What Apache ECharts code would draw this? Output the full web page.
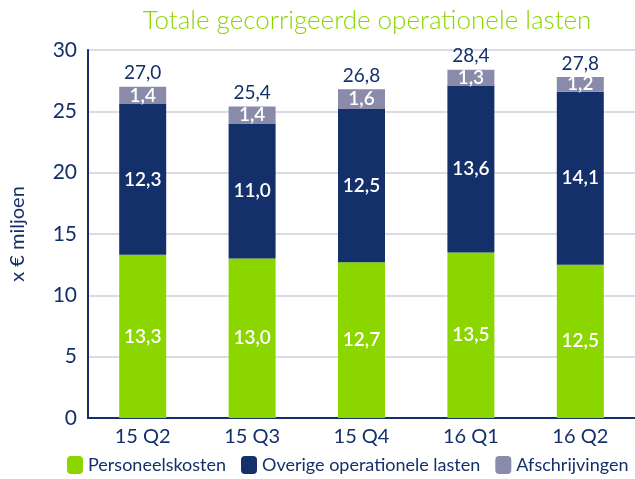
<!DOCTYPE html>
<html><head><meta charset="utf-8">
<script src="https://cdn.jsdelivr.net/npm/echarts@6/dist/echarts.min.js"></script>
<style>html,body{margin:0;padding:0;background:#fff}#c{width:635px;height:479px}</style>
</head><body><div id="c"></div>
<script>
const categories = ['15 Q2','15 Q3','15 Q4','16 Q1','16 Q2'];
const personeelskosten = [13.3, 13.0, 12.7, 13.5, 12.5];
const overige = [12.3, 11.0, 12.5, 13.6, 14.1];
const afschrijvingen = [1.4, 1.4, 1.6, 1.3, 1.2];
const totals = [27.0, 25.4, 26.8, 28.4, 27.8];
const yTicks = [0,5,10,15,20,25,30];

const NAVY = '#14306a', GREEN = '#8cd600', GREY = '#8a8aaa';
const FONT = 'Lato';
const fmt = v => v.toFixed(1).replace('.', ',');
const inLabel = {show:true, position:'inside', color:'#fff', fontFamily:FONT, fontSize:19, fontWeight:600,
  formatter: p => fmt(p.value)};

const chart = echarts.init(document.getElementById('c'), null, {renderer:'canvas'});
chart.setOption({
  animation:false,
  title:{text:'Totale gecorrigeerde operationele lasten', left:362, top:3, textAlign:'center',
    textStyle:{color:GREEN, fontFamily:FONT, fontWeight:300, fontSize:26}},
  grid:{left:85, right:0, top:50, bottom:61, containLabel:false},
  legend:{bottom:0, left:62, itemWidth:16, itemHeight:18, itemGap:15,
    textStyle:{color:NAVY, fontFamily:FONT, fontSize:18},
    data:['Personeelskosten','Overige operationele lasten','Afschrijvingen']},
  xAxis:{type:'category', data:categories,
    axisLine:{lineStyle:{color:NAVY, width:2}}, axisTick:{show:false},
    axisLabel:{color:NAVY, fontFamily:FONT, fontSize:20, margin:9}},
  yAxis:{type:'value', min:0, max:30, interval:5,
    name:'x € miljoen', nameLocation:'middle', nameGap:60, nameRotate:90,
    nameTextStyle:{color:NAVY, fontFamily:FONT, fontSize:20},
    axisLine:{show:true, lineStyle:{color:NAVY, width:2}},
    axisTick:{show:false},
    axisLabel:{color:NAVY, fontFamily:FONT, fontSize:21, margin:11,
      formatter: v => yTicks.includes(v) ? String(v) : ''},
    splitLine:{lineStyle:{color:'#cfcfdc', width:1.5}}},
  series:[
    {name:'Personeelskosten', type:'bar', stack:'t', data:personeelskosten, barWidth:47,
      itemStyle:{color:GREEN}, label:inLabel},
    {name:'Overige operationele lasten', type:'bar', stack:'t', data:overige,
      itemStyle:{color:NAVY}, label:inLabel},
    {name:'Afschrijvingen', type:'bar', stack:'t', data:afschrijvingen,
      itemStyle:{color:GREY}, label:inLabel},
    {name:'Totaal', type:'bar', stack:'t', data:totals.map(()=>0), itemStyle:{color:'transparent'},
      label:{show:true, position:'top', distance:4, color:NAVY, fontFamily:FONT, fontSize:19,
        formatter: p => fmt(totals[p.dataIndex])}}
  ]
});
</script></body></html>
